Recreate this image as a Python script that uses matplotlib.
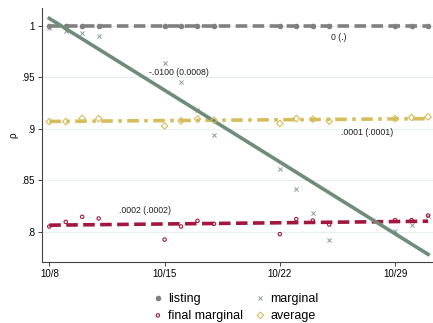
# rho by day, with linear fits (stata-ish look)

import numpy as np
import matplotlib
matplotlib.use('Agg')
import matplotlib.pyplot as plt

plt.rcParams['font.family'] = ['Liberation Sans', 'DejaVu Sans']

# days of October
days = [8, 9, 10, 11, 15, 16, 17, 18, 22, 23, 24, 25, 29, 30, 31]

listing        = [1.0] * 15
marginal       = [0.998, 0.9947, 0.9932, 0.9899, 0.9633, 0.9448, 0.9185, 0.8935,
                  0.861, 0.8416, 0.8182, 0.792, 0.8007, 0.8065, 0.8156]
final_marginal = [0.8049, 0.8094, 0.8143, 0.8127, 0.7922, 0.8049, 0.8104, 0.8075,
                  0.7975, 0.8121, 0.8107, 0.8068, 0.8111, 0.8111, 0.8156]
average        = [0.9068, 0.9068, 0.9100, 0.9097, 0.9026, 0.9075, 0.9094, 0.9081,
                  0.9049, 0.9097, 0.9091, 0.9071, 0.9097, 0.9107, 0.9114]

xtick_days   = [8, 15, 22, 29]
xtick_labels = ['10/8', '10/15', '10/22', '10/29']
ytick_vals   = [0.8, 0.85, 0.9, 0.95, 1.0]
ytick_labels = ['.8', '.85', '.9', '.95', '1']

# slope (se) labels, as printed on the chart
coef_labels = ['0 (.)', '-.0100 (0.0008)', '.0002 (.0002)', '.0001 (.0001)']
label_pos   = [(25.6, 0.9889), (15.9, 0.9545), (13.8, 0.8204), (27.3, 0.8964)]

c_list  = '#808080'
c_marg  = '#8c9898'
c_mfit  = '#6f8c7b'
c_final = '#a3173f'
c_avg   = '#d6bd5c'

fig = plt.figure(figsize=(4.33, 3.23), dpi=100)
ax = fig.add_axes([0.0963, 0.189, 0.9037, 0.786])

x = np.array(days, dtype=float)

# markers
h_list = ax.scatter(x, listing, s=9, color=c_list, marker='o', zorder=3, label='listing')
h_marg = ax.scatter(x, marginal, s=9, color=c_marg, marker='x', linewidths=0.7, zorder=3, label='marginal')
h_fin = ax.scatter(x, final_marginal, s=6, facecolors='none', edgecolors=c_final, marker='o',
                   linewidths=0.8, zorder=4, label='final marginal')
h_avg = ax.scatter(x, average, s=11, facecolors='none', edgecolors=c_avg, marker='D',
                   linewidths=0.8, zorder=4, label='average')

# linear fits
xx = np.array([x.min(), x.max()])
fits = [
    (listing, c_list, (0, (3.2, 1.5))),
    (average, c_avg, (0, (3.2, 1.5, 1.0, 1.5))),
    (final_marginal, c_final, (0, (3.2, 1.5))),
    (marginal, c_mfit, '-'),
]
for ys, col, ls in fits:
    b, a = np.polyfit(x, ys, 1)
    ax.plot(xx, a + b * xx, color=col, lw=2.6, ls=ls, zorder=3.5)

for txt, (tx, ty) in zip(coef_labels, label_pos):
    ax.text(tx, ty, txt, fontsize=6.3, ha='center', va='center', color='#222222', zorder=5)

ax.set_xlim(7.54, 31.3)
ax.set_ylim(0.7705, 1.017)
ax.set_xticks(xtick_days)
ax.set_xticklabels(xtick_labels)
ax.set_yticks(ytick_vals)
ax.set_yticklabels(ytick_labels)
ax.tick_params(labelsize=7, length=3, width=0.7, color='#444444', pad=2)
ax.set_ylabel('ρ', fontsize=7, labelpad=2)

ax.grid(True, axis='y', color='#e8eef1', lw=0.8, zorder=0)
ax.set_axisbelow(True)
for s in ['top', 'right']:
    ax.spines[s].set_visible(False)
for s in ['left', 'bottom']:
    ax.spines[s].set_color('#444444')
    ax.spines[s].set_linewidth(0.8)

# row-wise order like the original: listing, marginal / final marginal, average
handles = [h_list, h_fin, h_marg, h_avg]
labels = [h.get_label() for h in handles]
fig.legend(handles, labels, ncol=2, loc='upper center', bbox_to_anchor=(0.543, 0.094),
           frameon=False, fontsize=9, handletextpad=0.3, columnspacing=0.9,
           labelspacing=0.4, handlelength=1.0, borderaxespad=0, borderpad=0)

fig.savefig('out.png', dpi=100)
